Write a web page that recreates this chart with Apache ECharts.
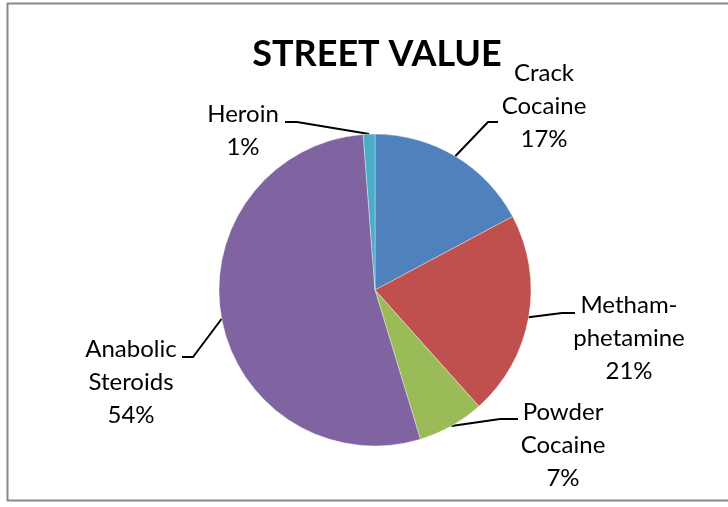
<!DOCTYPE html>
<html>
<head>
<meta charset="utf-8">
<style>
  html, body { margin: 0; padding: 0; background: #fff; }
  #chart { width: 728px; height: 507px; }
</style>
<script src="https://cdn.jsdelivr.net/npm/echarts@6/dist/echarts.min.js"></script>
</head>
<body>
<div id="chart"></div>
<script>
// ---- data ----
const categories = ['Crack\nCocaine', 'Metham-\nphetamine', 'Powder\nCocaine', 'Anabolic\nSteroids', 'Heroin'];
const values = [17.2, 21.2, 6.9, 53.5, 1.2];
const colors = ['#4F81BD', '#C0504D', '#9BBB59', '#8064A2', '#4BACC6'];
const titleText = 'STREET VALUE';

// ---- label placement (layout only) ----
// label centre, elbow point, and end of the horizontal stub
const labelPlace = [
  { x: 544, y: 106, elbow: [488, 122], end: [498, 122] },
  { x: 629, y: 338, elbow: [562, 313], end: [575, 313] },
  { x: 563, y: 445, elbow: [500, 419], end: [518, 419] },
  { x: 131, y: 382, elbow: [193, 357], end: [182, 357] },
  { x: 243, y: 131, elbow: [297, 122], end: [285, 122] }
];

const chart = echarts.init(document.getElementById('chart'), null, { renderer: 'canvas' });

const data = categories.map((c, i) => ({
  name: c,
  value: values[i],
  itemStyle: { color: colors[i] }
}));

chart.setOption({
  animation: false,
  backgroundColor: '#ffffff',
  title: {
    text: titleText,
    left: 372,
    top: 31,
    textAlign: 'center',
    textStyle: {
      fontFamily: 'Lato',
      fontWeight: 'bold',
      fontSize: 36,
      color: '#000'
    }
  },
  graphic: [{
    type: 'rect',
    shape: { x: 7.5, y: 3.5, width: 760, height: 497 },
    style: { fill: 'none', stroke: '#888', lineWidth: 2 },
    silent: true,
    z: -1
  }],
  series: [{
    type: 'pie',
    center: [375, 290],
    radius: 156,
    startAngle: 90,
    clockwise: true,
    avoidLabelOverlap: false,
    data: data,
    itemStyle: { borderColor: 'rgba(255,255,255,0.6)', borderWidth: 0.6 },
    label: {
      show: true,
      position: 'outside',
      formatter: p => p.name + '\n' + Math.round(p.percent) + '%',
      fontFamily: 'Lato',
      fontSize: 24,
      lineHeight: 33,
      color: '#000',
      align: 'center'
    },
    labelLine: {
      show: true,
      length: 20,
      length2: 10,
      lineStyle: { color: '#000', width: 2 }
    },
    emphasis: { disabled: true },
    labelLayout: function (params) {
      const pl = labelPlace[params.dataIndex];
      const anchor = params.labelLinePoints ? params.labelLinePoints[0] : pl.elbow;
      return {
        x: pl.x,
        y: pl.y,
        align: 'center',
        verticalAlign: 'middle',
        labelLinePoints: [anchor, pl.elbow, pl.end]
      };
    }
  }]
});
</script>
</body>
</html>
